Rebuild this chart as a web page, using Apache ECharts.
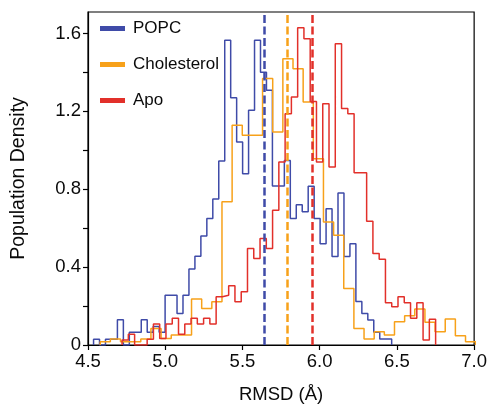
<!DOCTYPE html>
<html><head><meta charset="utf-8">
<script src="https://cdn.jsdelivr.net/npm/echarts@6/dist/echarts.min.js"></script>
<style>html,body{margin:0;padding:0;background:#fff}#c{width:490px;height:409px}</style>
</head><body><div id="c"></div>
<script>
// Histogram bins (left edge of first bin, bin width, densities)
const popcStart = 4.536, popcWidth = 0.0386;
const popcDensity = [0.03, 0, 0.03, 0.03, 0.13, 0, 0.065, 0.065, 0.13, 0.065,
  0.095, 0.065, 0.256, 0.256, 0.162, 0.256, 0.39, 0.456, 0.56, 0.65,
  0.75, 0.945, 1.565, 1.27, 1.043, 0.88, 1.205, 1.565, 1.40, 1.308,
  0.817, 0.817, 0.947, 0.65, 0.72, 0.684, 0.815, 0.65, 0.52, 0.70,
  0.455, 0.781, 0.455, 0.52, 0.224, 0.162, 0.128, 0.065, 0.031, 0.031];
const cholStart = 4.579, cholWidth = 0.0657;
const cholDensity = [0.017, 0.031, 0.017, 0.017, 0.031, 0.085, 0.034, 0.051, 0.051, 0.236,
  0.188, 0.222, 0.735, 1.128, 1.077, 1.077, 1.368, 1.094, 1.47, 1.419,
  1.248, 0.957, 0.632, 0.564, 0.29, 0.085, 0.031, 0.068, 0.051, 0.12,
  0.15, 0.185, 0.117, 0.068, 0.134, 0.048, 0.017];
const apoStart = 4.7206, apoWidth = 0.0406;
const apoDensity = [0.026, 0.055, 0, 0, 0.03, 0.108, 0.033, 0.108, 0.137, 0.055,
  0.108, 0.137, 0.108, 0.137, 0.108, 0.248, 0.256, 0.304, 0.222, 0.273,
  0.496, 0.444, 0.547, 0.496, 0.692, 0.94, 1.188, 1.273, 1.629, 1.573,
  1.25, 0.94, 1.239, 0.914, 1.547, 1.214, 1.188, 0.884, 0.884, 0.636,
  0.47, 0.44, 0.217, 0.196, 0.248, 0.217, 0.137, 0.217, 0.026, 0.132];
const seriesNames = ['POPC', 'Cholesterol', 'Apo'];
const seriesMeans = [5.636, 5.788, 5.951];
const xTicks = [4.5, 5.0, 5.5, 6.0, 6.5, 7.0];
const yLabelTicks = [0, 0.4, 0.8, 1.2, 1.6];
const yTickMarks = [0, 0.2, 0.4, 0.6, 0.8, 1.0, 1.2, 1.4, 1.6];

const colors = ['#3f4ba8', '#f7a11a', '#e2302a'];
const FONT = '"Liberation Sans", Arial, sans-serif';

function stepData(start, width, dens) {
  const pts = [[start, 0]];
  for (let i = 0; i < dens.length; i++) pts.push([start + i * width, dens[i]]);
  const end = start + dens.length * width;
  pts.push([end, dens[dens.length - 1]]);
  pts.push([end, 0]);
  return pts;
}
const hist = [
  stepData(popcStart, popcWidth, popcDensity),
  stepData(cholStart, cholWidth, cholDensity),
  stepData(apoStart, apoWidth, apoDensity)
];

const chart = echarts.init(document.getElementById('c'), null, {renderer: 'canvas'});
chart.setOption({
  animation: false,
  textStyle: {fontFamily: FONT},
  grid: {left: 88, right: 13.5, top: 12, bottom: 64, show: true, borderColor: '#000', borderWidth: 1.2, backgroundColor: 'transparent'},
  legend: {
    data: seriesNames, orient: 'vertical', left: 95, top: 15,
    itemWidth: 25, itemHeight: 5, itemGap: 19, icon: 'rect',
    textStyle: {fontSize: 17, color: '#0a0a0a', fontFamily: FONT, padding: [0, 0, 0, 3]}
  },
  xAxis: {
    type: 'value', min: 4.5, max: 7.0, interval: 0.5,
    axisLine: {show: true, lineStyle: {color: '#000', width: 1.2}},
    axisTick: {show: true, length: 5, lineStyle: {color: '#000', width: 1.2}},
    axisLabel: {fontSize: 18.5, color: '#0a0a0a', margin: 7, fontFamily: FONT,
      customValues: xTicks, formatter: v => v.toFixed(1)},
    splitLine: {show: false},
    name: 'RMSD (Å)', nameLocation: 'middle', nameGap: 40,
    nameTextStyle: {fontSize: 18.5, color: '#0a0a0a', fontFamily: FONT}
  },
  yAxis: {
    type: 'value', min: 0, max: 1.71,
    axisLine: {show: true, lineStyle: {color: '#000', width: 1.2}},
    axisTick: {show: true, length: 5, customValues: yTickMarks, lineStyle: {color: '#000', width: 1.2}},
    axisLabel: {fontSize: 18.5, color: '#0a0a0a', margin: 7, fontFamily: FONT,
      customValues: yLabelTicks, formatter: v => v === 0 ? '0' : v.toFixed(1)},
    splitLine: {show: false},
    name: 'Population Density', nameLocation: 'middle', nameGap: 59,
    nameTextStyle: {fontSize: 19.5, color: '#0a0a0a', fontFamily: FONT}
  },
  series: seriesNames.map((n, k) => ({
    name: n, type: 'line', step: 'end', data: hist[k],
    showSymbol: false, symbol: 'none', clip: true,
    itemStyle: {color: colors[k]},
    lineStyle: {color: colors[k], width: 1.5},
    z: 2 + k,
    markLine: {
      silent: true, symbol: ['none', 'none'], label: {show: false},
      lineStyle: {color: colors[k], width: 2.5, type: [8, 3.5]},
      data: [{xAxis: seriesMeans[k]}], z: 10
    }
  }))
});
</script></body></html>
